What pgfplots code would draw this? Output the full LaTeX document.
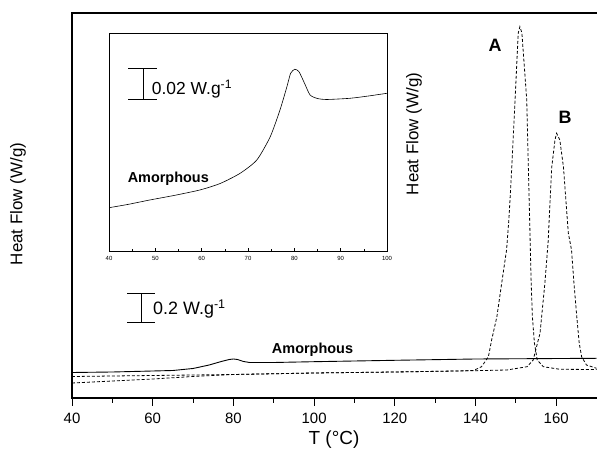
\documentclass[border=0pt]{standalone}
\usepackage{pgfplots}
\pgfplotsset{compat=1.18}
\usepackage{fontspec}
\setmainfont{Liberation Sans}
\begin{document}
\begin{tikzpicture}[x=1bp,y=1bp]
\useasboundingbox (0,0) rectangle (597,456);
% main axis
\begin{axis}[
  at={(72bp,58bp)}, anchor=south west,
  scale only axis, width=532.6bp, height=385bp,
  xmin=40, xmax=172, ymin=0, ymax=385,
  xtick={40,60,...,160}, minor x tick num=1,
  ytick=\empty, xtick pos=bottom,
  tick align=outside, major tick length=8bp, minor tick length=5bp,
  every tick/.style={black, line width=1pt},
  axis line style={line width=1.3pt},
  tick label style={font=\fontsize{15}{17}\selectfont},
  xticklabel style={yshift=-4bp},
  /pgf/number format/assume math mode=true,
]
% Amorphous (solid)
\addplot[black, line width=0.9pt] coordinates {
(40,25.5) (50,26) (60,27) (65,27.5) (70,29.5) (74,33) (77,36.5) (79,38.5) (80,39) (81,38.5) (82.5,36.5) (84,35.5) (90,35.5) (100,36.3) (120,37.7) (140,39) (170,39.7)};
% A (dashed)
\addplot[black, line width=0.8pt, dash pattern=on 3pt off 2pt] coordinates {
(40,21.5) (60,22.5) (80,23.5) (100,25) (120,26) (135,27) (139.5,27.5) (141.5,31.3) (143.2,41.3) (144.0,58) (145.3,81.3) (146.5,115) (147.7,148) (148.3,180) (149.0,231) (149.8,298) (150.6,365) (151.0,371.3) (151.5,365) (152.7,298) (153.1,231) (153.5,165) (153.6,148) (153.8,115) (154.1,81.3) (154.6,55) (155.3,38) (156.8,31.3) (160.9,28.7) (170,28.5)};
% B (dashed)
\addplot[black, line width=0.8pt, dash pattern=on 3pt off 2pt] coordinates {
(40,15) (50,17) (60,19) (70,21.5) (80,23.5) (100,25) (120,26) (140,27.3) (147.8,28) (152.8,31.3) (154.3,38) (156.0,65) (157.2,115) (158.0,156) (158.5,198) (158.9,231) (159.7,258) (160.1,264.7) (160.9,258) (161.8,231) (162.4,198) (163.0,165) (163.8,148) (164.4,115) (165.1,81.3) (165.7,55) (166.3,41.3) (167.5,33) (170,29.7)};
\end{axis}
% inset
\begin{axis}[
  at={(109bp,205bp)}, anchor=south west,
  scale only axis, width=278bp, height=218bp,
  xmin=40, xmax=100, ymin=0, ymax=218,
  xtick={40,50,...,100}, minor x tick num=1,
  ytick=\empty, xtick pos=bottom,
  tick align=inside, major tick length=3bp, minor tick length=2bp,
  every tick/.style={black, line width=0.6pt},
  axis line style={line width=0.7pt},
  tick label style={font=\fontsize{6}{7}\selectfont},
  xticklabel style={yshift=-2bp},
  /pgf/number format/assume math mode=true,
]
\addplot[black, line width=0.6pt, smooth, tension=0.4] coordinates {
(40,43.3) (44,46.5) (48.8,51) (54,55.5) (59.6,61) (64,67.5) (68.3,77.7) (71.9,91) (74.8,114.3) (76.9,141) (78.4,164.3) (79.2,177.7) (80.1,181.7) (81.0,179.3) (82.2,167.7) (83.4,156) (85,152.5) (87.0,151.5) (92.0,152.7) (96,155) (100,157.7)};
\end{axis}
% scale bars
\draw[line width=1pt] (141,162) -- (141,133) (127,162) -- (155,162) (127,133) -- (155,133);
\draw[line width=1pt] (143.3,387.7) -- (143.3,356) (128.3,387.7) -- (156.7,387.7) (128.3,356) -- (156.7,356);
\node[anchor=base west, inner sep=0, font=\fontsize{18}{20}\selectfont] at (153,141) {0.2 W.g\textsuperscript{-1}};
\node[anchor=base west, inner sep=0, font=\fontsize{17.5}{19}\selectfont] at (151.7,361.7) {0.02 W.g\textsuperscript{-1}};
% labels
\node[anchor=base, inner sep=0, font=\bfseries\fontsize{14.5}{16}\selectfont] at (312.5,102) {Amorphous};
\node[anchor=base, inner sep=0, font=\bfseries\fontsize{14.5}{16}\selectfont] at (168.3,273) {Amorphous};
\node[anchor=base, inner sep=0, font=\bfseries\fontsize{18}{20}\selectfont] at (495,404.3) {A};
\node[anchor=base, inner sep=0, font=\bfseries\fontsize{18}{20}\selectfont] at (565,332.7) {B};
\node[rotate=90, inner sep=0, font=\fontsize{17}{19}\selectfont] at (18,252) {Heat Flow (W/g)};
\node[rotate=90, inner sep=0, font=\fontsize{17}{19}\selectfont] at (414,322) {Heat Flow (W/g)};
\node[inner sep=0, font=\fontsize{19}{21}\selectfont] at (334,16) {T (°C)};
\end{tikzpicture}
\end{document}
